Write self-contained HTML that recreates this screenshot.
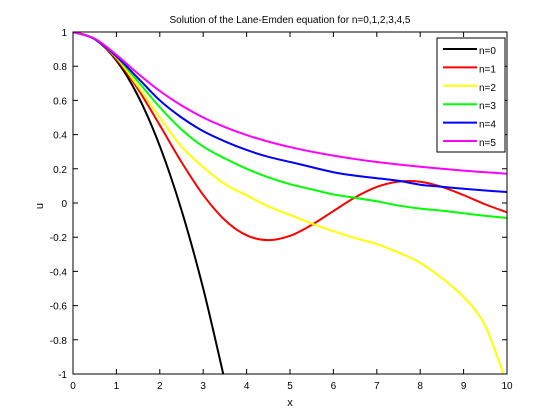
<!DOCTYPE html>
<html><head><meta charset="utf-8"><style>
body{margin:0;background:#fff;}
svg{display:block;font-family:"Liberation Sans",sans-serif;}
</style></head><body>
<svg id="chart" width="560" height="420" viewBox="0 0 560 420" xmlns="http://www.w3.org/2000/svg">
<defs><clipPath id="pc"><rect x="73" y="32" width="434" height="342"/></clipPath></defs>
<rect x="0" y="0" width="560" height="420" fill="#fff"/>
<text x="290" y="23" font-size="10" text-anchor="middle">Solution of the Lane-Emden equation for n=0,1,2,3,4,5</text>
<text x="290" y="406" font-size="11" text-anchor="middle">x</text>
<text x="43" y="206" font-size="11" text-anchor="middle" transform="rotate(-90 43 206)">u</text>
<g id="axes"></g>
<g id="series" clip-path="url(#pc)"></g>
<rect x="73" y="32" width="434" height="342" fill="none" stroke="#000" stroke-width="1"/>
<g id="legend"></g>
</svg>
<script>
const xs=[0,0.5,1,1.5,2,2.5,3,3.5,4,4.5,5,5.5,6,6.5,7,7.5,8,8.5,9,9.5,10];
const n0=[1,0.958,0.833,0.625,0.333,-0.042,-0.5,-1.042,null,null,null,null,null,null,null,null,null,null,null,null,null];
const n1=[1,0.959,0.841,0.665,0.455,0.239,0.047,-0.100,-0.189,-0.217,-0.192,-0.128,-0.047,0.033,0.094,0.125,0.124,0.094,0.046,-0.008,-0.054];
const n2=[1,0.959,0.850,0.68,0.50,0.33,0.21,0.11,0.045,-0.02,-0.07,-0.12,-0.165,-0.205,-0.24,-0.29,-0.35,-0.44,-0.55,-0.72,-1.06];
const n3=[1,0.959,0.855,0.71,0.56,0.43,0.33,0.26,0.20,0.15,0.11,0.08,0.05,0.03,0.01,-0.015,-0.033,-0.045,-0.06,-0.075,-0.088];
const n4=[1,0.959,0.858,0.73,0.60,0.50,0.42,0.36,0.31,0.27,0.24,0.21,0.18,0.16,0.145,0.13,0.107,0.095,0.083,0.073,0.064];
const n5=[1,0.961,0.866,0.756,0.655,0.570,0.5,0.444,0.397,0.359,0.327,0.300,0.277,0.257,0.240,0.225,0.212,0.200,0.189,0.180,0.171];
const seriesNames=["n=0","n=1","n=2","n=3","n=4","n=5"];
const seriesColors=["#000000","#ff0000","#ffff00","#00ff00","#0000ff","#ff00ff"];
const xTicks=[0,1,2,3,4,5,6,7,8,9,10];
const yTicks=[-1,-0.8,-0.6,-0.4,-0.2,0,0.2,0.4,0.6,0.8,1];
const NS="http://www.w3.org/2000/svg";
const L=73,R=507,T=32,B=374;
function sx(v){return L+(v-0)/(10-0)*(R-L);}
function sy(v){return B-(v+1)/2*(B-T);}
function mk(tag,attrs,parent){const e=document.createElementNS(NS,tag);for(const k in attrs)e.setAttribute(k,attrs[k]);parent.appendChild(e);return e;}
const axes=document.getElementById('axes');
xTicks.forEach(t=>{
  const x=sx(t);
  const tk=mk('path',{d:`M${x},${B}v-5M${x},${T}v5`,stroke:'#000','stroke-width':1,fill:'none'},axes);
  
  
  const lb=mk('text',{x:x,y:B+15,'font-size':10,'text-anchor':'middle'},axes);
  lb.textContent=String(t);
  
  
});
yTicks.forEach(t=>{
  const y=sy(t);
  const tk=mk('path',{d:`M${L},${y}h5M${R},${y}h-5`,stroke:'#000','stroke-width':1,fill:'none'},axes);
  
  
  const lb=mk('text',{x:L-6,y:y+4,'font-size':10,'text-anchor':'end'},axes);
  lb.textContent=String(t);
  
  
});
function pathFor(vals){
  const pts=[];
  for(let i=0;i<xs.length;i++){if(vals[i]!==null)pts.push([sx(xs[i]),sy(vals[i])]);}
  let d=`M${pts[0][0]},${pts[0][1]}`;
  for(let i=0;i<pts.length-1;i++){
    const p0=pts[i-1]||pts[i],p1=pts[i],p2=pts[i+1],p3=pts[i+2]||p2;
    const c1=[p1[0]+(p2[0]-p0[0])/6,p1[1]+(p2[1]-p0[1])/6];
    const c2=[p2[0]-(p3[0]-p1[0])/6,p2[1]-(p3[1]-p1[1])/6];
    d+=`C${c1[0]},${c1[1]} ${c2[0]},${c2[1]} ${p2[0]},${p2[1]}`;
  }
  return d;
}
const all=[n0,n1,n2,n3,n4,n5];
const sg=document.getElementById('series');
all.forEach((vals,i)=>{
  const p=mk('path',{d:pathFor(vals),stroke:seriesColors[i],'stroke-width':2,fill:'none'},sg);
  
  
});
const lg=document.getElementById('legend');
const box=mk('rect',{x:437,y:38,width:68,height:114,fill:'#fff',stroke:'#000','stroke-width':1},lg);


seriesNames.forEach((nm,i)=>{
  const y=49+i*18.4;
  const ln=mk('line',{x1:443,x2:477,y1:y,y2:y,stroke:seriesColors[i],'stroke-width':2},lg);
  
  
  const tx=mk('text',{x:479,y:y+5,'font-size':10},lg);
  tx.textContent=nm;
  
  
});
</script>
</body></html>
